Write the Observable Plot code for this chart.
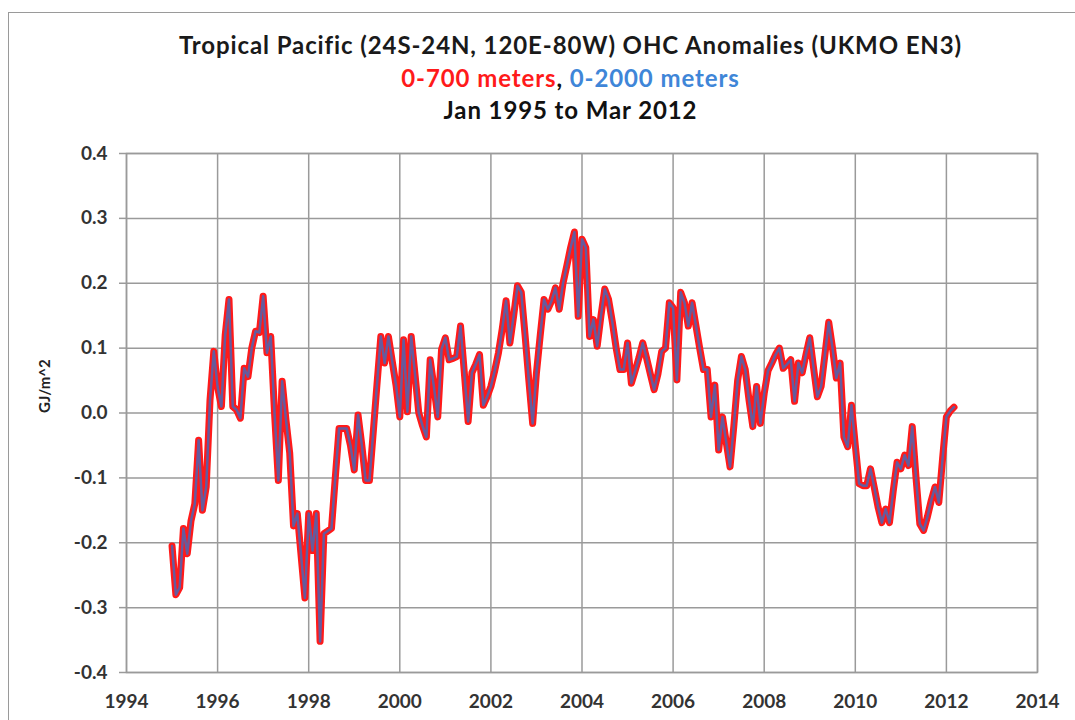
<!DOCTYPE html>
<html>
<head>
<meta charset="utf-8">
<script src="https://cdn.jsdelivr.net/npm/d3@7"></script>
<script src="https://cdn.jsdelivr.net/npm/@observablehq/plot@0.6"></script>
<style>
  html, body { margin: 0; padding: 0; background: #fff; }
  #wrap { position: relative; width: 1075px; height: 720px; overflow: hidden; font-family: Lato, "Open Sans", sans-serif; }
  #frame { position: absolute; left: 8px; top: 12px; width: 1100px; height: 760px; border: 1.5px solid #9a9a9a; box-sizing: border-box; }
  #titles { position: relative; height: 140px; text-align: center; font-weight: bold; }
  .t { position: absolute; left: 0; width: 1075px; text-align: center; white-space: nowrap; font-size: 24px; letter-spacing: 0.9px; line-height: 29px; padding-left: 66px; box-sizing: border-box; }
  #t1 { top: 30px; color: #1a1a1a; }
  #t2 { top: 63px; }
  #t3 { top: 95px; color: #111; }
  #plot { position: absolute; left: 0; top: 140px; }
</style>
</head>
<body>
<div id="wrap">
  <div id="frame"></div>
  <div id="titles">
    <div class="t" id="t1"></div>
    <div class="t" id="t2"></div>
    <div class="t" id="t3"></div>
  </div>
  <div id="plot"></div>
</div>
<script>
// ---- Text ----
const titleText = "Tropical Pacific (24S-24N, 120E-80W) OHC Anomalies (UKMO EN3)";
const subtitleRed = "0-700 meters";
const subtitleBlue = "0-2000 meters";
const periodText = "Jan 1995 to Mar 2012";
const yLabel = "GJ/m^2";

// ---- Axis ticks ----
const xTicks = [1994, 1996, 1998, 2000, 2002, 2004, 2006, 2008, 2010, 2012, 2014];
const yTicks = [-0.4, -0.3, -0.2, -0.1, 0.0, 0.1, 0.2, 0.3, 0.4];

// ---- Data: monthly OHC anomalies (GJ/m^2), Jan 1995 .. Mar 2012 ----
const startYear = 1995;
const ohc700_1995 = [-0.205,-0.280,-0.269,-0.178,-0.217,-0.166,-0.140,-0.042,-0.150,-0.114,0.020,0.095];
const ohc700_1996 = [0.040,0.010,0.120,0.175,0.010,0.005,-0.008,0.069,0.056,0.100,0.126,0.124];
const ohc700_1997 = [0.180,0.093,0.118,0.000,-0.104,0.049,-0.010,-0.062,-0.174,-0.155,-0.220,-0.285];
const ohc700_1998 = [-0.155,-0.212,-0.155,-0.352,-0.186,-0.182,-0.178,-0.100,-0.024,-0.024,-0.024,-0.050];
const ohc700_1999 = [-0.088,-0.003,-0.050,-0.104,-0.104,-0.030,0.045,0.118,0.077,0.118,0.080,0.043];
const ohc700_2000 = [-0.006,0.113,0.002,0.118,0.060,0.000,-0.020,-0.037,0.082,0.040,-0.006,0.098];
const ohc700_2001 = [0.116,0.082,0.084,0.087,0.134,0.062,-0.013,0.062,0.075,0.090,0.012,0.025];
const ohc700_2002 = [0.041,0.065,0.093,0.130,0.173,0.108,0.150,0.196,0.186,0.120,0.050,-0.016];
const ohc700_2003 = [0.062,0.120,0.175,0.160,0.173,0.193,0.160,0.200,0.227,0.255,0.279,0.149];
const ohc700_2004 = [0.268,0.255,0.118,0.144,0.103,0.150,0.191,0.175,0.140,0.100,0.067,0.067];
const ohc700_2005 = [0.108,0.046,0.065,0.085,0.108,0.085,0.060,0.036,0.060,0.095,0.100,0.170];
const ohc700_2006 = [0.162,0.051,0.186,0.170,0.134,0.170,0.135,0.100,0.067,0.067,-0.006,0.043];
const ohc700_2007 = [-0.057,-0.006,-0.045,-0.083,-0.020,0.050,0.087,0.067,0.020,-0.021,0.041,-0.016];
const ohc700_2008 = [0.030,0.065,0.077,0.090,0.100,0.069,0.075,0.082,0.018,0.077,0.062,0.090];
const ohc700_2009 = [0.116,0.070,0.025,0.041,0.090,0.140,0.100,0.054,0.077,-0.037,-0.052,0.012];
const ohc700_2010 = [-0.050,-0.109,-0.112,-0.112,-0.086,-0.115,-0.145,-0.169,-0.148,-0.169,-0.120,-0.076];
const ohc700_2011 = [-0.086,-0.065,-0.081,-0.021,-0.100,-0.171,-0.181,-0.160,-0.135,-0.114,-0.138,-0.070];
const ohc700_2012 = [-0.006,0.003,0.009];

// The 0-2000 m curve is indistinguishable from the 0-700 m curve at this resolution
const ohc700 = [].concat(ohc700_1995, ohc700_1996, ohc700_1997, ohc700_1998, ohc700_1999,
  ohc700_2000, ohc700_2001, ohc700_2002, ohc700_2003, ohc700_2004, ohc700_2005, ohc700_2006,
  ohc700_2007, ohc700_2008, ohc700_2009, ohc700_2010, ohc700_2011, ohc700_2012);
const ohc2000 = ohc700.slice();

const red = "#ff1a1a";
const blue = "#4a67b5";
const blueText = "#3f86d8";

// ---- Titles ----
document.getElementById("t1").textContent = titleText;
document.getElementById("t2").innerHTML =
  `<span style="color:${red}">${subtitleRed}</span><span style="color:#111">, </span><span style="color:${blueText}">${subtitleBlue}</span>`;
document.getElementById("t3").textContent = periodText;

// ---- Build table ----
const rows700 = ohc700.map((v, i) => ({date: startYear + i / 12, v}));
const rows2000 = ohc2000.map((v, i) => ({date: startYear + i / 12, v}));

const grid = "#9a9a9a";
const chart = Plot.plot({
  width: 1075,
  height: 580,
  marginLeft: 126,
  marginRight: 38,
  marginTop: 13,
  marginBottom: 48,
  style: {fontFamily: "Lato, 'Open Sans', sans-serif", fontSize: "19px", fontWeight: "bold", color: "#333", background: "transparent"},
  x: {domain: [1994, 2014], label: null},
  y: {domain: [-0.4, 0.4], label: null},
  marks: [
    Plot.gridX(xTicks, {stroke: grid, strokeOpacity: 1, strokeWidth: 1.5}),
    Plot.gridY(yTicks, {stroke: grid, strokeOpacity: 1, strokeWidth: 1.5}),
    Plot.frame({stroke: grid, strokeWidth: 1.5}),
    Plot.axisX({ticks: xTicks, tickFormat: d => String(d), tickSize: 0, tickPadding: 22, fill: "#333", label: null}),
    Plot.axisY({ticks: yTicks, tickFormat: d => d.toFixed(1), tickSize: 7, tickPadding: 12, stroke: grid, strokeWidth: 1.5, fill: "#333", label: null}),
    Plot.line(rows700, {x: "date", y: "v", stroke: red, strokeWidth: 7, strokeLinejoin: "round", strokeLinecap: "round"}),
    Plot.line(rows2000, {x: "date", y: "v", stroke: blue, strokeWidth: 2.5, strokeOpacity: 0.85, strokeLinejoin: "round"}),
    Plot.text([yLabel], {frameAnchor: "left", dx: -81, rotate: -90, fontSize: 15, fontWeight: "bold", fill: "#222"})
  ]
});
document.getElementById("plot").appendChild(chart);
</script>
</body>
</html>
